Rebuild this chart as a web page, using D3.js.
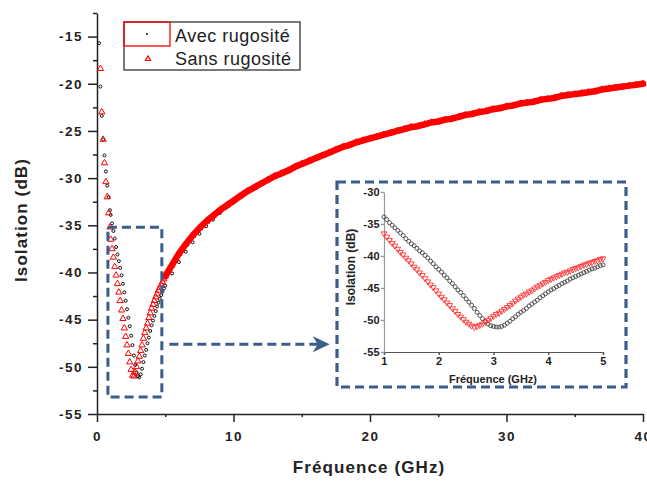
<!DOCTYPE html>
<html><head><meta charset="utf-8">
<script src="https://cdn.jsdelivr.net/npm/d3@7"></script>
<style>body{margin:0;background:#fff} svg{display:block}</style>
</head><body><svg id="c" width="647" height="482"></svg>
<script>
// ---------- DATA ----------
const freqGHz = [
 0.15,0.25,0.35,0.45,0.55,0.65,0.75,0.85,0.95,
 1.00,1.05,1.10,1.15,1.20,1.25,1.30,1.35,1.40,1.45,1.50,1.55,1.60,1.65,1.70,1.75,1.80,1.85,1.90,1.95,
 2.00,2.05,2.10,2.15,2.20,2.25,2.30,2.35,2.40,2.45,2.50,2.55,2.60,2.65,2.70,2.75,2.80,2.85,2.90,2.95,
 3.00,3.05,3.10,3.15,3.20,3.25,3.30,3.35,3.40,3.45,3.50,3.55,3.60,3.65,3.70,3.75,3.80,3.85,3.90,3.95,
 4.00,4.05,4.10,4.15,4.20,4.25,4.30,4.35,4.40,4.45,4.50,4.55,4.60,4.65,4.70,4.75,4.80,4.85,4.90,4.95,5.00,
 5.5,6.0,6.5,7.0,7.5,8.0,8.5,9.0,9.5,10.0,10.5,11.0,11.5,12.0,12.5,13.0,13.5,14.0,14.5,15.0,
 15.5,16.0,16.5,17.0,17.5,18.0,18.5,19.0,19.5,20.0,20.5,21.0,21.5,22.0,22.5,23.0,23.5,24.0,24.5,25.0,
 25.5,26.0,26.5,27.0,27.5,28.0,28.5,29.0,29.5,30.0,30.5,31.0,31.5,32.0,32.5,33.0,33.5,34.0,34.5,35.0,
 35.5,36.0,36.5,37.0,37.5,38.0,38.5,39.0,39.5,40.0
];
const avecRugosite = [
 -15.7,-20.3,-23.4,-25.9,-27.6,-29.3,-30.8,-32.0,-33.4,
 -33.9,-34.3,-34.8,-35.2,-35.6,-36.0,-36.4,-36.8,-37.3,-37.7,-38.1,-38.4,-38.8,-39.2,-39.5,-39.9,-40.3,-40.8,-41.2,-41.7,
 -42.1,-42.5,-43.0,-43.4,-43.9,-44.3,-44.8,-45.3,-45.7,-46.2,-46.7,-47.2,-47.7,-48.2,-48.8,-49.3,-49.8,-50.2,-50.6,-50.9,
 -51.0,-51.1,-51.1,-51.0,-50.8,-50.5,-50.2,-49.8,-49.5,-49.1,-48.8,-48.5,-48.2,-47.8,-47.5,-47.2,-46.9,-46.5,-46.2,-45.9,
 -45.6,-45.3,-45.1,-44.8,-44.6,-44.3,-44.1,-43.9,-43.6,-43.4,-43.2,-43.0,-42.8,-42.6,-42.4,-42.2,-42.0,-41.9,-41.7,-41.5,-41.4,
 -40.1,-38.9,-37.8,-36.8,-35.9,-35.1,-34.4,-33.7,-33.1,-32.6,-32.0,-31.5,-31.1,-30.7,-30.3,-29.9,-29.6,-29.3,-28.9,-28.6,
 -28.3,-28.0,-27.7,-27.4,-27.1,-26.8,-26.6,-26.3,-26.1,-25.9,-25.7,-25.5,-25.3,-25.1,-24.9,-24.7,-24.6,-24.4,-24.2,-24.1,
 -23.9,-23.8,-23.6,-23.4,-23.3,-23.1,-23.0,-22.8,-22.7,-22.5,-22.4,-22.2,-22.1,-22.0,-21.8,-21.7,-21.6,-21.4,-21.3,-21.2,
 -21.1,-21.0,-20.9,-20.7,-20.6,-20.5,-20.4,-20.3,-20.2,-20.1
];
const sansRugosite = [
 null,-18.4,-23.0,-25.9,-28.4,-30.4,-32.0,-33.7,-35.2,
 -36.5,-37.0,-37.5,-38.0,-38.4,-38.9,-39.4,-39.8,-40.3,-40.7,-41.2,-41.7,-42.1,-42.6,-43.0,-43.5,-44.0,-44.5,-44.9,-45.4,
 -45.9,-46.4,-46.8,-47.3,-47.7,-48.2,-48.6,-49.1,-49.5,-49.9,-50.3,-50.6,-50.9,-51.1,-51.0,-50.8,-50.6,-50.3,-50.0,-49.7,
 -49.4,-49.1,-48.9,-48.6,-48.3,-48.0,-47.7,-47.4,-47.0,-46.7,-46.4,-46.1,-45.9,-45.6,-45.4,-45.1,-44.8,-44.6,-44.3,-44.1,
 -43.8,-43.6,-43.4,-43.2,-43.0,-42.8,-42.6,-42.5,-42.3,-42.1,-41.9,-41.8,-41.6,-41.4,-41.3,-41.1,-41.0,-40.8,-40.7,-40.5,-40.4,
 -39.2,-38.0,-37.0,-36.1,-35.3,-34.6,-34.0,-33.4,-32.9,-32.4,-31.9,-31.4,-31.0,-30.6,-30.2,-29.8,-29.5,-29.2,-28.8,-28.5,
 -28.2,-27.9,-27.6,-27.3,-27.0,-26.7,-26.5,-26.2,-26.0,-25.8,-25.6,-25.4,-25.2,-25.0,-24.8,-24.6,-24.5,-24.3,-24.1,-24.0,
 -23.8,-23.7,-23.5,-23.3,-23.2,-23.0,-22.9,-22.7,-22.6,-22.4,-22.3,-22.1,-22.0,-21.9,-21.7,-21.6,-21.5,-21.3,-21.2,-21.1,
 -21.0,-20.9,-20.8,-20.6,-20.5,-20.4,-20.3,-20.2,-20.1,-20.0
];
const seriesNames = ["Avec rugosité", "Sans rugosité"];
const mainXTicks = [0, 10, 20, 30, 40];
const mainXMinor = [5, 15, 25, 35];
const mainYTicks = [-55, -50, -45, -40, -35, -30, -25, -20, -15];
const mainYMinor = [-52.5, -47.5, -42.5, -37.5, -32.5, -27.5, -22.5, -17.5, -12.5];
const insetXTicks = [1, 2, 3, 4, 5];
const insetYTicks = [-55, -50, -45, -40, -35, -30];
const xTitle = "Fréquence (GHz)";
const yTitle = "Isolation (dB)";
// zoom window shown in the inset (data units)
const zoomWindow = {f0: 0.8, f1: 4.75, db0: -35.2, db1: -53.2};

// ---------- DRAW ----------
const svg = d3.select("#c");
const FONT = "'Liberation Sans', Arial, sans-serif";
const BLUE = "#3b5d8c";

const x = d3.scaleLinear().domain([0, 40]).range([97, 643]);
const y = d3.scaleLinear().domain([-55, -12.5]).range([414, 13]);

const pts = freqGHz.map((f, i) => ({f, a: avecRugosite[i], s: sansRugosite[i], i}));

function styleAxis(g, size, ls, col) {
  g.select(".domain").attr("stroke", col || "#222").attr("stroke-width", 1.5);
  g.selectAll(".tick line").attr("stroke", col || "#222").attr("stroke-width", 1.5);
  g.selectAll(".tick text").attr("fill", "#222").style("font-family", FONT)
    .style("font-weight", "bold").style("font-size", size + "px").style("letter-spacing", ls + "px");
}

// main axes
const gx = svg.append("g").attr("transform", "translate(0,414)")
  .call(d3.axisBottom(x).tickValues(mainXTicks).tickSize(8).tickSizeOuter(0).tickPadding(9).tickFormat(d => String(d)));
styleAxis(gx, 13.5, 1.5);
const gxm = svg.append("g").attr("transform", "translate(0,414)")
  .call(d3.axisBottom(x).tickValues(mainXMinor).tickSize(3).tickSizeOuter(0).tickFormat(""));
styleAxis(gxm, 13, 0); gxm.select(".domain").remove();

const gy = svg.append("g").attr("transform", "translate(97,0)")
  .call(d3.axisLeft(y).tickValues(mainYTicks).tickSize(9).tickSizeOuter(0).tickPadding(5).tickFormat(d => String(d)));
styleAxis(gy, 13.5, 1.5);
const gym = svg.append("g").attr("transform", "translate(97,0)")
  .call(d3.axisLeft(y).tickValues(mainYMinor).tickSize(4).tickSizeOuter(0).tickFormat(""));
styleAxis(gym, 13, 0); gym.select(".domain").remove();

// axis titles
svg.append("text").attr("x", 369).attr("y", 473).attr("text-anchor", "middle")
  .style("font-family", FONT).style("font-weight", "bold").style("font-size", "17px")
  .style("letter-spacing", "1.1px").attr("fill", "#222").text(xTitle);
svg.append("text").attr("transform", "translate(27,220) rotate(-90)").attr("text-anchor", "middle")
  .style("font-family", FONT).style("font-weight", "bold").style("font-size", "17px")
  .style("letter-spacing", "1.1px").attr("fill", "#222").text(yTitle);

// main plot series
const mainPts = pts.filter(p => p.f < 1 || p.f > 5 || (p.i - 9) % 2 === 0);
svg.append("g").selectAll("circle").data(mainPts).join("circle")
  .attr("cx", p => x(p.f)).attr("cy", p => y(p.a)).attr("r", 1.5)
  .attr("fill", "none").attr("stroke", "#111").attr("stroke-width", 1);

const band = pts.filter(p => p.f >= 5 && p.s != null);
svg.append("path").datum(band)
  .attr("d", d3.line().x(p => x(p.f)).y(p => y(p.s)))
  .attr("fill", "none").attr("stroke", "#ff0000").attr("stroke-width", 6.5)
  .attr("stroke-linejoin", "round").attr("stroke-linecap", "round");

const tri = d3.symbol().type(d3.symbolTriangle).size(17);
svg.append("g").selectAll("path").data(mainPts.filter(p => p.s != null)).join("path")
  .attr("transform", p => `translate(${x(p.f)},${y(p.s)})`).attr("d", tri)
  .attr("fill", "none").attr("stroke", "#ff0000").attr("stroke-width", 1);

// zoom window and arrow
svg.append("rect")
  .attr("x", x(zoomWindow.f0)).attr("y", y(zoomWindow.db0))
  .attr("width", x(zoomWindow.f1) - x(zoomWindow.f0)).attr("height", y(zoomWindow.db1) - y(zoomWindow.db0))
  .attr("fill", "none").attr("stroke", BLUE).attr("stroke-width", 3).attr("stroke-dasharray", "9,5");
const ay = y(-47.6);
svg.append("line").attr("x1", x(5.3)).attr("x2", x(16.4)).attr("y1", ay).attr("y2", ay)
  .attr("stroke", BLUE).attr("stroke-width", 3).attr("stroke-dasharray", "9,5");
const ax = x(17.05);
svg.append("path").attr("d", `M${ax-17},${ay-8} L${ax},${ay} L${ax-17},${ay+8} L${ax-12},${ay} Z`)
  .attr("fill", BLUE);

// ---------- INSET ----------
svg.append("rect").attr("x", 337).attr("y", 182).attr("width", 289).attr("height", 205)
  .attr("fill", "#fff").attr("stroke", BLUE).attr("stroke-width", 3.2).attr("stroke-dasharray", "9,5");

const xi = d3.scaleLinear().domain([1, 5]).range([384, 603]);
const yi = d3.scaleLinear().domain([-55, -30]).range([352, 192]);

const gix = svg.append("g").attr("transform", "translate(0,352)")
  .call(d3.axisBottom(xi).tickValues(insetXTicks).tickSize(3).tickSizeOuter(0).tickPadding(2).tickFormat(d => String(d)));
styleAxis(gix, 11, 0.3, "#555");
gix.select(".domain").attr("stroke-width", 1.2);
const giy = svg.append("g").attr("transform", "translate(384,0)")
  .call(d3.axisLeft(yi).tickValues(insetYTicks).tickSize(3).tickSizeOuter(0).tickPadding(1).tickFormat(d => String(d)));
styleAxis(giy, 11, 0.3, "#999");
giy.select(".domain").attr("stroke-width", 1.2);

svg.append("text").attr("x", 493).attr("y", 383).attr("text-anchor", "middle")
  .style("font-family", FONT).style("font-weight", "bold").style("font-size", "11px")
  .attr("fill", "#222").text(xTitle);
svg.append("text").attr("transform", "translate(355,267) rotate(-90)").attr("text-anchor", "middle")
  .style("font-family", FONT).style("font-weight", "bold").style("font-size", "12px")
  .attr("fill", "#222").text(yTitle);

const insetPts = pts.filter(p => p.f >= 1 && p.f <= 5);
svg.append("g").selectAll("circle").data(insetPts).join("circle")
  .attr("cx", p => xi(p.f)).attr("cy", p => yi(p.a)).attr("r", 2)
  .attr("fill", "none").attr("stroke", "#444").attr("stroke-width", 0.9);
const triI = d3.symbol().type(d3.symbolTriangle).size(15);
svg.append("g").selectAll("path").data(insetPts).join("path")
  .attr("transform", p => `translate(${xi(p.f)},${yi(p.s)}) rotate(180)`).attr("d", triI)
  .attr("fill", "none").attr("stroke", "#ff3030").attr("stroke-width", 0.9);

// ---------- LEGEND ----------
const lg = svg.append("g");
lg.append("rect").attr("x", 124).attr("y", 22).attr("width", 176).attr("height", 48)
  .attr("fill", "#fff").attr("stroke", "#333").attr("stroke-width", 1.3);
lg.append("rect").attr("x", 124).attr("y", 22).attr("width", 46).attr("height", 24)
  .attr("fill", "none").attr("stroke", "#ff0000").attr("stroke-width", 1.3);
lg.append("circle").attr("cx", 147).attr("cy", 34).attr("r", 1).attr("fill", "#111");
lg.append("path").attr("transform", "translate(148,59)").attr("d", d3.symbol().type(d3.symbolTriangle).size(12))
  .attr("fill", "none").attr("stroke", "#ff0000").attr("stroke-width", 1.2);
lg.selectAll("text.lt").data(seriesNames).join("text").attr("class", "lt")
  .attr("x", 175).attr("y", (d, i) => 42 + i * 23)
  .style("font-family", FONT).style("font-size", "18px").style("letter-spacing", "0.5px")
  .attr("fill", "#222").text(d => d);
</script></body></html>
